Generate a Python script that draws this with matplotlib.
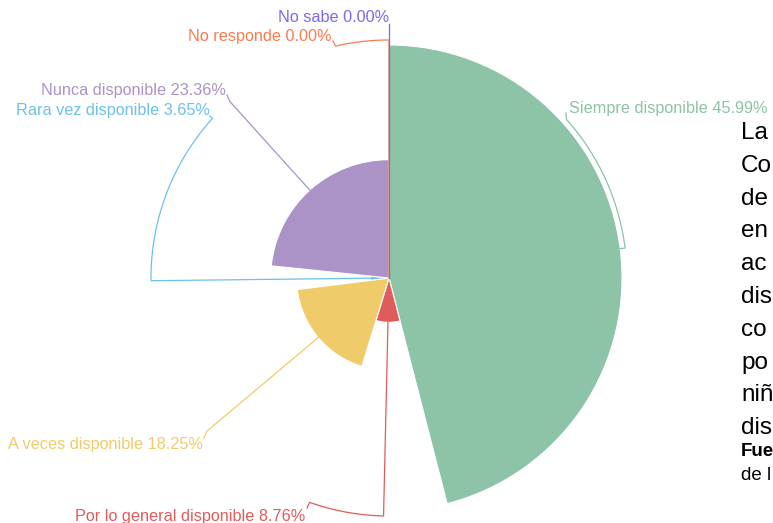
import numpy as np
import matplotlib.pyplot as plt
from matplotlib.patches import Wedge

plt.rcParams['font.family'] = ['Liberation Sans', 'DejaVu Sans']

# data (clockwise from 12 o'clock)
categories = ["Siempre disponible", "Por lo general disponible", "A veces disponible",
              "Rara vez disponible", "Nunca disponible", "No responde", "No sabe"]
values = [45.99, 8.76, 18.25, 3.65, 23.36, 0.00, 0.00]
colors = ["#8dc3a7", "#e05b5b", "#f0cb69", "#6cc1ea", "#ab92c7", "#fb7b4f", "#7b68ee"]

side_lines = ["La", "Co", "de", "en", "ac", "dis", "co", "po", "niñ", "dis"]
source_lines = ["Fue", "de l"]

# layout (pixels, image coords)
W, H = 773, 523
cx, cy = 389, 278
R_MAX = 233
R_LINE = 238
# label: (arc end angle or None, hook end, text anchor x, text y, ha)
label_layout = [
    (48.2, (566, 113), 569, 109, "left"),
    (199.5, (307, 508), 305, 516, "right"),
    (None, (204, 438), 203, 444, "right"),
    (312.1, (210, 116), 210, 110, "right"),
    (None, (227, 95), 226, 91, "right"),
    (347.0, (333, 41), 332, 37, "right"),
    (None, (389, 24), 389, 17, "right"),
]


def pt(a, r):
    t = np.radians(a)
    return cx + r * np.sin(t), cy - r * np.cos(t)


fig = plt.figure(figsize=(W / 100, H / 100), dpi=100)
ax = fig.add_axes([0, 0, 1, 1])
ax.set_xlim(0, W)
ax.set_ylim(H, 0)
ax.axis("off")

total = sum(values)
vmax = max(values)
start = 0.0
for cat, v, col, lay in zip(categories, values, colors, label_layout):
    span = v / total * 360
    r = v / vmax * R_MAX
    if span > 0:
        ax.add_patch(Wedge((cx, cy), r, start - 90, start + span - 90,
                           facecolor=col, edgecolor="white", lw=0.8, zorder=2))
    mid = start + span / 2
    arc_end, hook, tx, ty, ha = lay
    if arc_end is None:
        arc_end = mid
    # radial segment, then arc round to the label, then a short hook
    x0, y0 = pt(mid, r)
    angs = np.linspace(mid, arc_end, 60)
    ax_pts = [pt(a, R_LINE) for a in angs]
    xs = [x0] + [p[0] for p in ax_pts] + [hook[0]]
    ys = [y0] + [p[1] for p in ax_pts] + [hook[1]]
    ax.plot(xs, ys, color=col, lw=0.9, zorder=3, solid_joinstyle="round")
    ax.text(tx, ty, f"{cat} {v:.2f}%", color=col, fontsize=11.7,
            ha=ha, va="center", zorder=4)
    start += span

# clipped side text
y = 133
for s in side_lines:
    ax.text(741, y, s, fontsize=17.5, color="black", ha="left", va="center")
    y += 32.8
ax.text(741, 452, source_lines[0], fontsize=13.5, fontweight="bold", ha="left", va="center")
ax.text(741, 475, source_lines[1], fontsize=13.5, ha="left", va="center")

fig.savefig("out.png", dpi=100)
